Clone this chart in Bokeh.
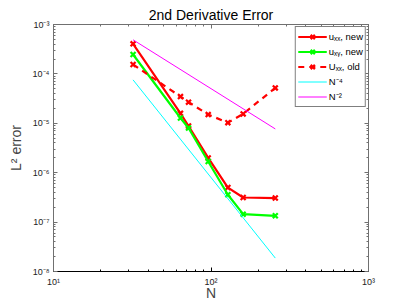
from bokeh.plotting import figure
from bokeh.models import (FixedTicker, CustomJSTickFormatter, LogAxis, Legend, LegendItem,
                          Range1d)
from bokeh.embed import file_html
from bokeh.resources import INLINE

# ---- data ----
N = [32, 64, 72, 96, 128, 160, 256]
uxx_new = [4.06e-4, 1.59e-5, 8.8e-6, 1.99e-6, 5.0e-7, 3.15e-7, 3.07e-7]
uxy_new = [2.47e-4, 1.28e-5, 8.05e-6, 1.69e-6, 3.58e-7, 1.45e-7, 1.34e-7]
Uxx_old = [1.55e-4, 3.47e-5, 2.68e-5, 1.50e-5, 1.03e-5, 1.55e-5, 5.21e-5]
N_ref = [32, 256]
ref_N4 = [7.57e-5, 1.87e-8]
ref_N2 = [4.9e-4, 7.69e-6]

x_ticks = [10, 100, 1000]
x_tick_labels = ["10¹", "10²", "10³"]
y_ticks = [1e-8, 1e-7, 1e-6, 1e-5, 1e-4, 1e-3]
y_tick_labels = ["10⁻⁸", "10⁻⁷", "10⁻⁶", "10⁻⁵", "10⁻⁴", "10⁻³"]

legend_labels = ["uₓₓ, new", "uₓᵧ, new", "Uₓₓ, old", "N⁻⁴", "N⁻²"]

FONT = "Liberation Sans"

p = figure(x_axis_type="log", y_axis_type="log",
           x_range=Range1d(10, 1000), y_range=Range1d(1e-8, 1e-3),
           frame_width=315, frame_height=247,
           min_border_left=53, min_border_right=37, min_border_top=24, min_border_bottom=33,
           output_backend="svg", toolbar_location=None,
           title="2nd Derivative Error")
p.title.align = "center"
p.title.text_font = FONT
p.title.text_font_size = "14px"
p.title.text_font_style = "normal"
p.title.text_color = "black"
p.title.standoff = 3

p.grid.visible = False
p.outline_line_color = "#707070"
p.background_fill_color = "white"
p.border_fill_color = "white"

minor_x = [m * 10 ** k for k in (1, 2) for m in range(2, 10)]
minor_y = [m * 10.0 ** k for k in range(-8, -3) for m in range(2, 10)]

fmt_code = """
let best = 0, bd = 1e9;
for (let i = 0; i < tvals.length; i++) {
  const d = Math.abs(Math.log10(tick) - Math.log10(tvals[i]));
  if (d < bd) { bd = d; best = i; }
}
return tlabels[best];
"""
xfmt = CustomJSTickFormatter(args=dict(tvals=x_ticks, tlabels=x_tick_labels), code=fmt_code)
yfmt = CustomJSTickFormatter(args=dict(tvals=y_ticks, tlabels=y_tick_labels), code=fmt_code)

def style_axis(ax, color, show_labels):
    ax.axis_line_color = color
    ax.major_tick_line_color = color
    ax.minor_tick_line_color = color
    ax.major_tick_in = 4
    ax.major_tick_out = 0
    ax.minor_tick_in = 2
    ax.minor_tick_out = 0
    ax.major_label_text_font = FONT
    ax.major_label_text_font_size = "9px"
    ax.major_label_text_color = "#222222"
    if not show_labels:
        ax.major_label_text_font_size = "0px"
        ax.major_label_text_alpha = 0

xa = p.xaxis[0]
xa.ticker = FixedTicker(ticks=x_ticks, minor_ticks=minor_x)
xa.formatter = xfmt
style_axis(xa, "black", True)
xa.major_label_standoff = 5
xa.axis_label = "N"
xa.axis_label_text_font = FONT
xa.axis_label_text_font_size = "14px"
xa.axis_label_text_font_style = "normal"
xa.axis_label_standoff = -5

ya = p.yaxis[0]
ya.ticker = FixedTicker(ticks=y_ticks, minor_ticks=minor_y)
ya.formatter = yfmt
style_axis(ya, "#707070", True)
ya.major_label_standoff = 4
ya.axis_label = "L² error"
ya.axis_label_text_font = FONT
ya.axis_label_text_font_size = "14px"
ya.axis_label_text_font_style = "normal"
ya.axis_label_standoff = 6

ra = LogAxis(ticker=FixedTicker(ticks=y_ticks, minor_ticks=minor_y))
style_axis(ra, "#707070", False)
p.add_layout(ra, "right")
ta = LogAxis(ticker=FixedTicker(ticks=x_ticks, minor_ticks=minor_x))
style_axis(ta, "#707070", False)
p.add_layout(ta, "above")

l1 = p.line(N, uxx_new, line_color="#ff0000", line_width=2.2)
s1 = p.scatter(N, uxx_new, marker="x", size=7, line_color="#ff0000", line_width=2.2)
l2 = p.line(N, uxy_new, line_color="#00ff00", line_width=2.2)
s2 = p.scatter(N, uxy_new, marker="x", size=7, line_color="#00ff00", line_width=2.2)
l3 = p.line(N, Uxx_old, line_color="#ff0000", line_width=2.2, line_dash="6 5")
s3 = p.scatter(N, Uxx_old, marker="x", size=7, line_color="#ff0000", line_width=2.2)
l4 = p.line(N_ref, ref_N4, line_color="#00ffff", line_width=1)
l5 = p.line(N_ref, ref_N2, line_color="#ff00ff", line_width=1)

legend = Legend(items=[
    LegendItem(label=legend_labels[0], renderers=[l1, s1]),
    LegendItem(label=legend_labels[1], renderers=[l2, s2]),
    LegendItem(label=legend_labels[2], renderers=[l3, s3]),
    LegendItem(label=legend_labels[3], renderers=[l4]),
    LegendItem(label=legend_labels[4], renderers=[l5]),
], location="top_right")
legend.margin = 2
legend.padding = 2
legend.spacing = 0
legend.glyph_width = 29
legend.glyph_height = 15
legend.label_height = 15
legend.label_standoff = 2
legend.label_text_font = FONT
legend.label_text_font_size = "9.5px"
legend.label_text_color = "black"
legend.border_line_color = "black"
legend.border_line_width = 1
legend.background_fill_color = "white"
legend.background_fill_alpha = 1
p.add_layout(legend)

open("out.html", "w").write(file_html(p, INLINE))
